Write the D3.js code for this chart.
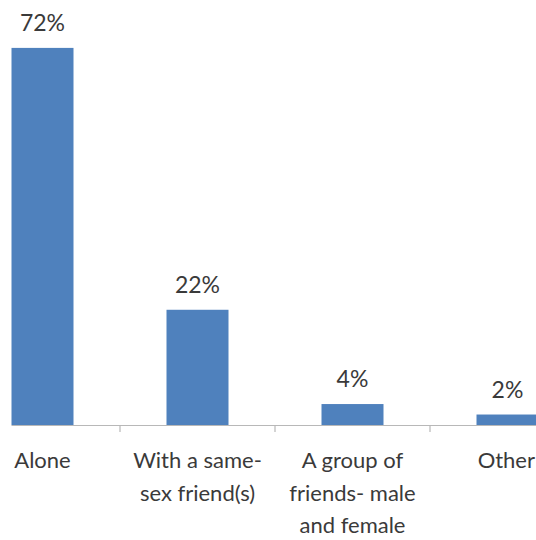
<!DOCTYPE html>
<html>
<head>
<meta charset="utf-8">
<script src="https://cdn.jsdelivr.net/npm/d3@7/dist/d3.min.js"></script>
<style>
  html, body { margin: 0; padding: 0; background: #fff; }
  svg { display: block; }
  text { font-family: "Lato", "Open Sans", sans-serif; fill: #3a3a3a; }
</style>
</head>
<body>
<svg id="chart" width="536" height="540"></svg>
<script>
// Who respondents went with
const categories = ["Alone", "With a same-sex friend(s)", "A group of friends- male and female", "Other"];
const categoryLines = [["Alone"], ["With a same-", "sex friend(s)"], ["A group of", "friends- male", "and female"], ["Other"]];
const shares = [72, 22, 4, 2];
const valueLabels = ["72%", "22%", "4%", "2%"];

const width = 536, height = 540;
const svg = d3.select("#chart");

const x = d3.scaleBand()
  .domain(categories)
  .range([-35, 585])
  .paddingInner(0.6)
  .paddingOuter(0.3);

const y = d3.scaleLinear()
  .domain([0, 80])
  .range([425, 6]);

const step = x.step();
const gap = step * x.paddingInner();

// bars
svg.append("g")
  .selectAll("rect")
  .data(categories)
  .join("rect")
  .attr("x", d => x(d))
  .attr("y", (d, i) => y(shares[i]))
  .attr("width", x.bandwidth())
  .attr("height", (d, i) => y(0) - y(shares[i]))
  .attr("fill", "#4F81BD");

// category axis line and tick marks between categories
svg.append("line")
  .attr("x1", x(categories[0]))
  .attr("x2", width)
  .attr("y1", y(0) + 0.5)
  .attr("y2", y(0) + 0.5)
  .attr("stroke", "#b8b8b8")
  .attr("stroke-width", 1.2);

svg.append("g")
  .selectAll("line")
  .data(categories.slice(1))
  .join("line")
  .attr("x1", d => x(d) - gap / 2)
  .attr("x2", d => x(d) - gap / 2)
  .attr("y1", y(0))
  .attr("y2", y(0) + 7)
  .attr("stroke", "#b8b8b8")
  .attr("stroke-width", 1.2);

// value labels
svg.append("g")
  .selectAll("text")
  .data(categories)
  .join("text")
  .attr("x", d => x(d) + x.bandwidth() / 2)
  .attr("y", (d, i) => y(shares[i]) - 17)
  .attr("text-anchor", "middle")
  .attr("font-size", 23)
  .text((d, i) => valueLabels[i]);

// category labels, kept inside the right edge of the chart
const cat = svg.append("g")
  .selectAll("text")
  .data(categories)
  .join("text")
  .attr("y", 468)
  .attr("text-anchor", "middle")
  .attr("font-size", 22);

cat.each(function(d, i) {
  const t = d3.select(this);
  const lines = categoryLines[i].map((line, j) =>
    t.append("tspan").attr("dy", j === 0 ? 0 : 32.5).text(line));
  const w = d3.max(lines, s => s.node().getComputedTextLength());
  const cx = Math.min(x(d) + x.bandwidth() / 2, width - 1 - w / 2);
  lines.forEach(s => s.attr("x", cx));
});
</script>
</body>
</html>
